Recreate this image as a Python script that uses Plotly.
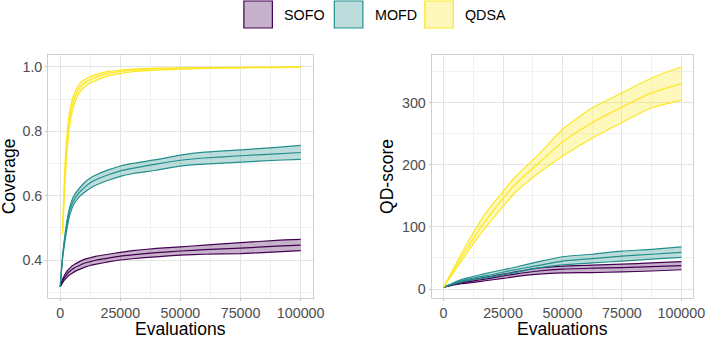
import plotly.graph_objects as go

# ---------------- data ----------------
series = ["SOFO", "MOFD", "QDSA"]
line_colors = ["#440154", "#21908C", "#FDE725"]
fill_colors = ["rgba(68,1,84,0.3)", "rgba(33,144,140,0.3)", "rgba(253,231,37,0.3)"]

# Coverage panel
cov_x = [0, 1000, 2000, 3000, 4000, 5000, 6000, 8000, 10000, 12500, 15000,
         20000, 25000, 30000, 40000, 50000, 60000, 75000, 90000, 100000]
cov_x_qdsa = [1000, 2000, 3000, 4000, 5000, 6000, 8000, 10000, 12500, 15000,
              20000, 25000, 30000, 40000, 50000, 60000, 75000, 90000, 100000]

cov_sofo_mean = [0.317, 0.335, 0.348, 0.358, 0.365, 0.371, 0.376, 0.383, 0.390, 0.395, 0.400,
                 0.406, 0.412, 0.416, 0.423, 0.428, 0.432, 0.437, 0.443, 0.446]
cov_sofo_hi = [0.317, 0.340, 0.356, 0.367, 0.375, 0.382, 0.387, 0.395, 0.402, 0.407, 0.412,
               0.418, 0.424, 0.429, 0.436, 0.441, 0.446, 0.454, 0.461, 0.464]
cov_sofo_lo = [0.317, 0.330, 0.340, 0.348, 0.354, 0.359, 0.364, 0.371, 0.377, 0.383, 0.387,
               0.394, 0.400, 0.404, 0.410, 0.415, 0.418, 0.420, 0.425, 0.429]

cov_mofd_mean = [0.317, 0.410, 0.470, 0.520, 0.555, 0.575, 0.590, 0.610, 0.625, 0.640, 0.650,
                 0.665, 0.677, 0.685, 0.698, 0.710, 0.717, 0.724, 0.730, 0.734]
cov_mofd_hi = [0.317, 0.415, 0.480, 0.530, 0.565, 0.588, 0.603, 0.623, 0.640, 0.655, 0.665,
               0.680, 0.692, 0.700, 0.712, 0.726, 0.735, 0.742, 0.750, 0.756]
cov_mofd_lo = [0.317, 0.405, 0.460, 0.505, 0.540, 0.562, 0.577, 0.597, 0.610, 0.623, 0.633,
               0.648, 0.660, 0.668, 0.679, 0.692, 0.698, 0.704, 0.710, 0.713]

cov_qdsa_mean = [0.490, 0.670, 0.780, 0.845, 0.880, 0.905, 0.935, 0.950, 0.961, 0.969,
                 0.980, 0.986, 0.990, 0.994, 0.996, 0.997, 0.998, 0.999, 1.000]
cov_qdsa_hi = [0.500, 0.700, 0.805, 0.865, 0.898, 0.920, 0.947, 0.960, 0.970, 0.977,
               0.986, 0.990, 0.993, 0.996, 0.997, 0.998, 0.999, 0.9995, 1.000]
cov_qdsa_lo = [0.480, 0.640, 0.750, 0.820, 0.860, 0.887, 0.920, 0.937, 0.950, 0.958,
               0.972, 0.979, 0.985, 0.990, 0.993, 0.995, 0.997, 0.998, 0.999]

# QD-score panel
qd_x = [0, 2500, 5000, 7500, 10000, 15000, 20000, 25000, 30000, 40000,
        50000, 62500, 75000, 87500, 100000]

qd_sofo_mean = [3, 5.5, 8, 10, 11.5, 14.5, 17.5, 21, 24, 29, 32, 33.5, 34.5, 36, 37.5]
qd_sofo_hi = [3, 6, 9, 11.5, 13.5, 17, 20.5, 24, 27.5, 34, 37, 38.5, 40, 42, 44]
qd_sofo_lo = [3, 5, 7, 8.5, 9.5, 12, 14.5, 17, 20, 24, 26, 26.5, 27.5, 29, 31]

qd_mofd_mean = [3, 6.5, 10, 13, 15.5, 19.5, 23, 27, 31, 38, 45, 49, 53, 56, 59]
qd_mofd_hi = [3, 7, 11.5, 15, 18, 22.5, 27, 31, 35, 44, 52, 56, 61, 64, 68]
qd_mofd_lo = [3, 6, 9, 11.5, 13.5, 16.5, 19.5, 23, 26.5, 34, 39, 42, 45, 48, 51]

qd_qdsa_mean = [3, 19, 35, 51, 66, 96, 122, 146, 168, 203, 237, 268, 293, 316, 331]
qd_qdsa_hi = [3, 21, 39, 57, 74, 107, 134, 157, 180, 217, 257, 292, 316, 340, 358]
qd_qdsa_lo = [3, 17, 31, 45, 59, 86, 110, 133, 155, 187, 214, 243, 268, 292, 304]

x_ticks = [0, 25000, 50000, 75000, 100000]
x_tick_text = ["0", "25000", "50000", "75000", "100000"]
x_minor = [12500, 37500, 62500, 87500]
cov_ticks = [0.4, 0.6, 0.8, 1.0]
cov_tick_text = ["0.4", "0.6", "0.8", "1.0"]
cov_minor = [0.3, 0.5, 0.7, 0.9]
qd_ticks = [0, 100, 200, 300]
qd_tick_text = ["0", "100", "200", "300"]
qd_minor = [50, 150, 250, 350]

# ---------------- figure ----------------
W, H = 720, 338
FONT = "Liberation Sans, Arial, sans-serif"
fig = go.Figure()

panels = [
    ("x", "y", [(cov_x, cov_sofo_mean, cov_sofo_hi, cov_sofo_lo),
                (cov_x, cov_mofd_mean, cov_mofd_hi, cov_mofd_lo),
                (cov_x_qdsa, cov_qdsa_mean, cov_qdsa_hi, cov_qdsa_lo)]),
    ("x2", "y2", [(qd_x, qd_sofo_mean, qd_sofo_hi, qd_sofo_lo),
                  (qd_x, qd_mofd_mean, qd_mofd_hi, qd_mofd_lo),
                  (qd_x, qd_qdsa_mean, qd_qdsa_hi, qd_qdsa_lo)]),
]

LW = 1.2
for xa, ya, data in panels:
    for i, (xs, mean, hi, lo) in enumerate(data):
        c = line_colors[i]
        fig.add_trace(go.Scatter(x=xs, y=hi, mode="lines", xaxis=xa, yaxis=ya,
                                 line=dict(color=c, width=LW, shape="spline", smoothing=0.6),
                                 showlegend=False, hoverinfo="skip"))
        fig.add_trace(go.Scatter(x=xs, y=lo, mode="lines", xaxis=xa, yaxis=ya,
                                 line=dict(color=c, width=LW, shape="spline", smoothing=0.6),
                                 fill="tonexty", fillcolor=fill_colors[i],
                                 showlegend=False, hoverinfo="skip"))
        fig.add_trace(go.Scatter(x=xs, y=mean, mode="lines", xaxis=xa, yaxis=ya,
                                 line=dict(color=c, width=LW, shape="spline", smoothing=0.6),
                                 name=series[i], showlegend=False))

# panel placement in pixels
left_px = (49, 318)
right_px = (439, 705)
top_px, bot_px = 55, 298

def px_dom(a, b):
    return [a / W, b / W]

ydom = [1 - bot_px / H, 1 - top_px / H]

grid_major = "#e4e4e4"
grid_minor = "#f1f1f1"
border = "#cfcfcf"
tick_font = dict(family=FONT, size=14.3, color="#4d4d4d")

common_axis = dict(showline=True, mirror=True, linecolor=border, linewidth=1,
                   showgrid=True, gridcolor=grid_major, gridwidth=1,
                   zeroline=False, ticks="outside", ticklen=2, tickcolor="#c8c8c8",
                   tickwidth=1, tickfont=tick_font, tickmode="array")

fig.update_layout(
    width=W, height=H,
    margin=dict(l=0, r=0, t=0, b=0),
    paper_bgcolor="white", plot_bgcolor="white",
    showlegend=False,
    xaxis=dict(domain=px_dom(*left_px), range=[-5000, 105000], anchor="y",
               tickvals=x_ticks, ticktext=x_tick_text,
               minor=dict(tickvals=x_minor, showgrid=True, gridcolor=grid_minor,
                          gridwidth=0.6, ticks=""),
               **common_axis),
    yaxis=dict(domain=ydom, range=[0.282, 1.037], anchor="x",
               tickvals=cov_ticks, ticktext=cov_tick_text,
               minor=dict(tickvals=cov_minor, showgrid=True, gridcolor=grid_minor,
                          gridwidth=0.6, ticks=""),
               **common_axis),
    xaxis2=dict(domain=px_dom(*right_px), range=[-5000, 105000], anchor="y2",
                tickvals=x_ticks, ticktext=x_tick_text,
                minor=dict(tickvals=x_minor, showgrid=True, gridcolor=grid_minor,
                           gridwidth=0.6, ticks=""),
                **common_axis),
    yaxis2=dict(domain=ydom, range=[-14.5, 377], anchor="x2",
                tickvals=qd_ticks, ticktext=qd_tick_text,
                minor=dict(tickvals=qd_minor, showgrid=True, gridcolor=grid_minor,
                           gridwidth=0.6, ticks=""),
                **common_axis),
)

# axis titles
title_font = dict(family=FONT, size=17.5, color="black")
ymid = 1 - ((top_px + bot_px) / 2) / H
fig.add_annotation(text="Coverage", xref="paper", yref="paper", x=10 / W, y=ymid,
                   textangle=-90, showarrow=False, font=title_font,
                   xanchor="center", yanchor="middle")
fig.add_annotation(text="QD-score", xref="paper", yref="paper", x=394 / W, y=ymid,
                   textangle=-90, showarrow=False, font=title_font,
                   xanchor="center", yanchor="middle")
for a, b in (left_px, right_px):
    fig.add_annotation(text="Evaluations", xref="paper", yref="paper",
                       x=(a + b) / 2 / W, y=1 - 328.5 / H, showarrow=False,
                       font=title_font, xanchor="center", yanchor="middle")

# legend (manual keys)
key_x = [248, 340, 432]
key_w, key_top, key_bot = 29, 1, 28
for i, name in enumerate(series):
    x0 = key_x[i]
    fig.add_shape(type="rect", xref="paper", yref="paper",
                  x0=x0 / W, x1=(x0 + key_w) / W,
                  y0=1 - key_bot / H, y1=1 - key_top / H,
                  line=dict(color=line_colors[i], width=1.2),
                  fillcolor=fill_colors[i])
    fig.add_annotation(text=name, xref="paper", yref="paper",
                       x=(x0 + key_w + 10) / W, y=1 - 14.5 / H, showarrow=False,
                       xanchor="left", yanchor="middle",
                       font=dict(family=FONT, size=14.3, color="black"))

fig.write_html("out.html",
               config={"displayModeBar": False},
               post_script="document.body.style.margin='0';document.body.style.overflow='hidden';")
